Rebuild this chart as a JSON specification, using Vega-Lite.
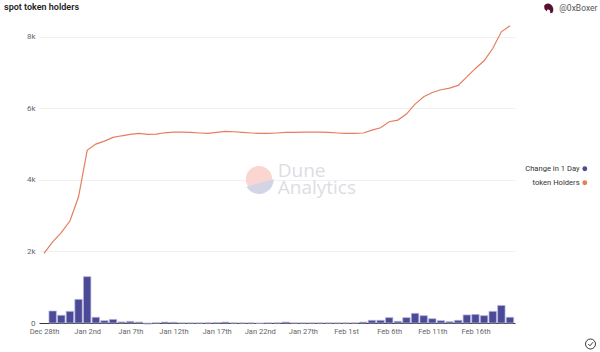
{
"$schema":"https://vega.github.io/schema/vega-lite/v6.json",
"width":476,"height":297,
"autosize":{"type":"none"},
"padding":{"left":39,"top":26,"right":85,"bottom":29},
"background":"#ffffff",
"title":{"text":"spot token holders","anchor":"start","frame":"group","dx":-35,"dy":21,"offset":12,"fontSize":9,"fontWeight":600,"font":"Roboto","color":"#222222"},
"config":{"view":{"stroke":null}},
"datasets":{"daily":[
{"date":"2021-12-28T00:00:00Z","holders":1947},
{"date":"2021-12-29T00:00:00Z","holders":2270,"change":335},
{"date":"2021-12-30T00:00:00Z","holders":2523,"change":215},
{"date":"2021-12-31T00:00:00Z","holders":2849,"change":325},
{"date":"2022-01-01T00:00:00Z","holders":3528,"change":660},
{"date":"2022-01-02T00:00:00Z","holders":4824,"change":1295},
{"date":"2022-01-03T00:00:00Z","holders":4999,"change":160},
{"date":"2022-01-04T00:00:00Z","holders":5084,"change":65},
{"date":"2022-01-05T00:00:00Z","holders":5187,"change":100},
{"date":"2022-01-06T00:00:00Z","holders":5232,"change":30},
{"date":"2022-01-07T00:00:00Z","holders":5270,"change":45},
{"date":"2022-01-08T00:00:00Z","holders":5298,"change":25},
{"date":"2022-01-09T00:00:00Z","holders":5270,"change":-30},
{"date":"2022-01-10T00:00:00Z","holders":5280,"change":5},
{"date":"2022-01-11T00:00:00Z","holders":5316,"change":25},
{"date":"2022-01-12T00:00:00Z","holders":5335,"change":20},
{"date":"2022-01-13T00:00:00Z","holders":5335,"change":3},
{"date":"2022-01-14T00:00:00Z","holders":5326,"change":3},
{"date":"2022-01-15T00:00:00Z","holders":5310,"change":2},
{"date":"2022-01-16T00:00:00Z","holders":5298,"change":4},
{"date":"2022-01-17T00:00:00Z","holders":5326,"change":10},
{"date":"2022-01-18T00:00:00Z","holders":5354,"change":25},
{"date":"2022-01-19T00:00:00Z","holders":5345,"change":3},
{"date":"2022-01-20T00:00:00Z","holders":5326,"change":2},
{"date":"2022-01-21T00:00:00Z","holders":5310,"change":3},
{"date":"2022-01-22T00:00:00Z","holders":5298,"change":-8},
{"date":"2022-01-23T00:00:00Z","holders":5298,"change":3},
{"date":"2022-01-24T00:00:00Z","holders":5310,"change":4},
{"date":"2022-01-25T00:00:00Z","holders":5326,"change":25},
{"date":"2022-01-26T00:00:00Z","holders":5326,"change":3},
{"date":"2022-01-27T00:00:00Z","holders":5335,"change":3},
{"date":"2022-01-28T00:00:00Z","holders":5335,"change":2},
{"date":"2022-01-29T00:00:00Z","holders":5335,"change":3},
{"date":"2022-01-30T00:00:00Z","holders":5326,"change":3},
{"date":"2022-01-31T00:00:00Z","holders":5310,"change":3},
{"date":"2022-02-01T00:00:00Z","holders":5298,"change":3},
{"date":"2022-02-02T00:00:00Z","holders":5298,"change":4},
{"date":"2022-02-03T00:00:00Z","holders":5310,"change":25},
{"date":"2022-02-04T00:00:00Z","holders":5391,"change":75},
{"date":"2022-02-05T00:00:00Z","holders":5456,"change":75},
{"date":"2022-02-06T00:00:00Z","holders":5624,"change":150},
{"date":"2022-02-07T00:00:00Z","holders":5670,"change":47},
{"date":"2022-02-08T00:00:00Z","holders":5838,"change":150},
{"date":"2022-02-09T00:00:00Z","holders":6117,"change":270},
{"date":"2022-02-10T00:00:00Z","holders":6322,"change":205},
{"date":"2022-02-11T00:00:00Z","holders":6443,"change":120},
{"date":"2022-02-12T00:00:00Z","holders":6518,"change":65},
{"date":"2022-02-13T00:00:00Z","holders":6564,"change":37},
{"date":"2022-02-14T00:00:00Z","holders":6640,"change":75},
{"date":"2022-02-15T00:00:00Z","holders":6880,"change":225},
{"date":"2022-02-16T00:00:00Z","holders":7114,"change":240},
{"date":"2022-02-17T00:00:00Z","holders":7327,"change":205},
{"date":"2022-02-18T00:00:00Z","holders":7672,"change":325},
{"date":"2022-02-19T00:00:00Z","holders":8137,"change":490},
{"date":"2022-02-20T00:00:00Z","holders":8305,"change":160}
],
"logo":[{"date":"2022-01-21T22:00:00Z","at":4022}],
"word1":[{"date":"2022-01-24T02:00:00Z","at":4080,"t":"Dune"}],
"word2":[{"date":"2022-01-24T02:00:00Z","at":3600,"t":"Analytics"}],
"author":[{"date":"2022-02-25T17:00:00Z","at":8800,"t":"@0xBoxer"}],
"avatar":[{"date":"2022-02-24T12:00:00Z","at":8800}],
"check":[{"date":"2022-03-01T08:00:00Z","at":-587}]
},
"data":{"name":"daily"},
"encoding":{
"x":{"field":"date","type":"temporal","title":null,
"scale":{"type":"utc","padding":0,"domain":["2021-12-27T10:00:00Z","2022-02-20T14:00:00Z"]},
"axis":{"grid":false,"ticks":false,"domain":true,"domainColor":"#3a3a3a","domainWidth":1,"labelFont":"Roboto","labelFontSize":7.5,"labelColor":"#666666","labelPadding":4,"labelOverlap":false,"labelFlush":false,
"values":["2021-12-28T00:00:00Z","2022-01-02T00:00:00Z","2022-01-07T00:00:00Z","2022-01-12T00:00:00Z","2022-01-17T00:00:00Z","2022-01-22T00:00:00Z","2022-01-27T00:00:00Z","2022-02-01T00:00:00Z","2022-02-06T00:00:00Z","2022-02-11T00:00:00Z","2022-02-16T00:00:00Z"],
"labelExpr":"utcFormat(datum.value,'%b ')+utcdate(datum.value)+(utcdate(datum.value)==1||utcdate(datum.value)==21||utcdate(datum.value)==31?'st':utcdate(datum.value)==2||utcdate(datum.value)==22?'nd':'th')"}}
},
"layer":[
{"data":{"name":"logo"},"mark":{"type":"point","filled":true,"fill":"#fbd6d1","opacity":1,"size":690,"shape":"circle"},
 "encoding":{"y":{"field":"at","type":"quantitative"}}},
{"data":{"name":"logo"},"mark":{"type":"point","filled":true,"fill":"#d3d5e6","opacity":1,"size":864,"shape":"M-0.86,0.52L1,0A1,1 0 0 1 -0.86,0.52Z"},
 "encoding":{"y":{"field":"at","type":"quantitative"}}},
{"data":{"name":"word1"},"mark":{"type":"text","align":"left","baseline":"alphabetic","font":"Open Sans","fontSize":19,"color":"#dcdde3"},
 "encoding":{"text":{"field":"t"},"y":{"field":"at","type":"quantitative"}}},
{"data":{"name":"word2"},"mark":{"type":"text","align":"left","baseline":"alphabetic","font":"Open Sans","fontSize":19,"color":"#dcdde3"},
 "encoding":{"text":{"field":"t"},"y":{"field":"at","type":"quantitative"}}},
{"mark":{"type":"bar","width":7.4,"stroke":"#b4b4dc","strokeWidth":0.7},
 "transform":[{"filter":"isValid(datum.change)"}],
 "encoding":{
  "y":{"field":"change","type":"quantitative","title":null,
   "scale":{"domain":[0,8300],"nice":false},
   "axis":{"values":[0,2000,4000,6000,8000],"labelExpr":"datum.value==0?'0':(datum.value/1000)+'k'","grid":true,"gridColor":"#f1f1f1","gridWidth":1,"ticks":false,"domain":false,"labelFont":"Roboto","labelFontSize":8,"labelColor":"#666666","labelPadding":4}},
  "color":{"datum":"Change in 1 Day","type":"nominal",
   "scale":{"domain":["Change in 1 Day","token Holders"],"range":["#4b4a97","#e57e5f"]},
   "legend":{"orient":"none","title":null,"legendX":542,"legendY":139,"symbolType":"circle","symbolSize":24,"labelFont":"Roboto","labelFontSize":7.6,"labelColor":"#333333","labelAlign":"right","labelOffset":-9,"rowPadding":5,"symbolStrokeWidth":0}}
 }},
{"mark":{"type":"line","strokeWidth":1.2,"interpolate":"linear","clip":false},
 "encoding":{
  "y":{"field":"holders","type":"quantitative"},
  "color":{"datum":"token Holders","type":"nominal"}
 }},
{"data":{"name":"author"},"mark":{"type":"text","align":"left","baseline":"middle","font":"Roboto","fontSize":8.5,"color":"#555555"},
 "encoding":{"text":{"field":"t"},"y":{"field":"at","type":"quantitative"}}},
{"data":{"name":"avatar"},"mark":{"type":"point","filled":true,"fill":"#5c1030","opacity":1,"size":110,"shape":"M-0.9,-0.4C-0.6,-1 0,-1 0.4,-0.7C0.9,-0.3 1,0.4 0.7,0.9L0.3,1L0.2,0.4L-0.2,0.2L-0.4,0.6L-0.8,0.2Z"},
 "encoding":{"y":{"field":"at","type":"quantitative"}}},
{"data":{"name":"check"},"mark":{"type":"point","filled":false,"fill":null,"stroke":"#222222","strokeWidth":0.9,"opacity":1,"size":100,"shape":"M1,0A1,1 0 1 1 -1,0A1,1 0 1 1 1,0ZM-0.45,0L-0.1,0.35L0.5,-0.35"},
 "encoding":{"y":{"field":"at","type":"quantitative"}}}
]
}
